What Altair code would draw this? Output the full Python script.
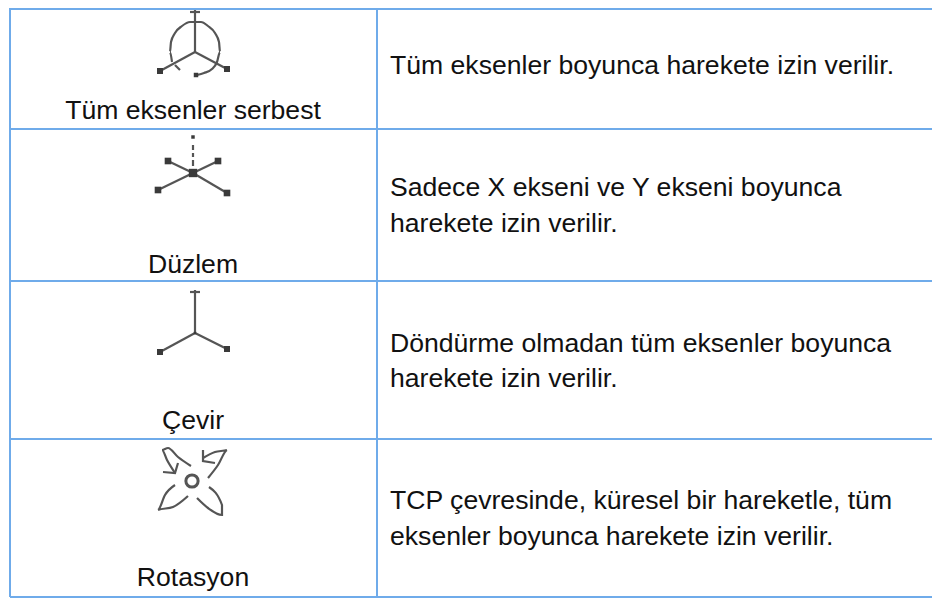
import altair as alt
import pandas as pd

# Table rules, in page pixels: (x, x2, y, y2)
h_rule_y = [9, 129, 281, 439, 597]
h_rule_x = [10, 932]
v_rule_x = [10, 377]
v_rule_y = [8, 597]

# Cell text
label_text = ["Tüm eksenler serbest", "Düzlem", "Çevir", "Rotasyon"]
label_x = [193, 193, 193, 193]
label_y = [119, 273, 429, 586]
desc_text = [
    "Tüm eksenler boyunca harekete izin verilir.",
    "Sadece X ekseni ve Y ekseni boyunca",
    "harekete izin verilir.",
    "Döndürme olmadan tüm eksenler boyunca",
    "harekete izin verilir.",
    "TCP çevresinde, küresel bir hareketle, tüm",
    "eksenler boyunca harekete izin verilir.",
]
desc_x = [390] * 7
desc_y = [74, 196, 232, 352, 387, 509, 545]

# Icon strokes (straight)
straight = {
    "a1": [(195, 10), (195, 52)],
    "a2": [(190, 12), (200, 12)],
    "a3": [(195, 52), (160, 71)],
    "a4": [(195, 52), (227, 69)],
    "a5": [(175, 65), (180, 70)],
    "b1": [(193, 145), (193, 150)],
    "b2": [(193, 153), (193, 157)],
    "b3": [(193, 160), (193, 166)],
    "b4": [(193, 173), (168, 161)],
    "b5": [(193, 173), (218, 161)],
    "b6": [(193, 173), (158, 190)],
    "b7": [(193, 173), (227, 193)],
    "c1": [(195, 290), (195, 333)],
    "c2": [(190, 292), (200, 292)],
    "c3": [(195, 333), (160, 352)],
    "c4": [(195, 333), (227, 349)],
    "d1": [(163, 472), (175, 473), (178, 463)],
    "d2": [(203, 450), (203, 461), (215, 463)],
}
# Icon strokes (curved)
curved = {
    "e1": [(172, 62), (170, 52), (171, 42), (175, 33), (182, 26), (190, 22), (195, 22),
           (201, 22), (208, 26), (215, 33), (219, 42), (220, 52), (217, 62), (212, 69),
           (204, 73), (197, 75)],
    "f1": [(191, 466), (178, 457), (168, 448), (162, 450), (167, 460), (175, 473)],
    "f2": [(208, 478), (218, 465), (227, 450), (215, 452), (203, 458)],
    "f3": [(175, 485), (165, 495), (158, 510), (173, 507), (188, 496)],
    "f4": [(197, 498), (208, 508), (222, 515), (222, 505), (209, 487)],
}
# Icon end squares
sq_x = [160, 227, 196, 193, 193, 168, 218, 158, 227, 160, 227, 195]
sq_y = [71, 69, 75, 137, 173, 161, 161, 190, 193, 352, 349, 333]
sq_size = [36, 36, 20, 12, 70, 44, 44, 44, 44, 36, 36, 6]
ring_x = [192]
ring_y = [481]


def long_table(d):
    rows = []
    for k, pts in d.items():
        for i, (x, y) in enumerate(pts):
            rows.append({"k": k, "i": i, "x": x, "y": y})
    return pd.DataFrame(rows)


W, H = 924, 592
X = alt.X("x:Q", scale=alt.Scale(domain=[8, 932], nice=False, zero=False), axis=None)
Y = alt.Y("y:Q", scale=alt.Scale(domain=[600, 8], nice=False, zero=False), axis=None)
INK = "#555555"
BLUE = "#6fabea"

rules_h = pd.DataFrame([{"x": h_rule_x[0], "x2": h_rule_x[1], "y": y} for y in h_rule_y])
rules_v = pd.DataFrame([{"x": x, "y": v_rule_y[0], "y2": v_rule_y[1]} for x in v_rule_x])

h = alt.Chart(rules_h).mark_rule(color=BLUE, strokeWidth=2).encode(x=X, x2="x2:Q", y=Y)
v = alt.Chart(rules_v).mark_rule(color=BLUE, strokeWidth=2).encode(x=X, y=Y, y2="y2:Q")

line_enc = dict(x=X, y=Y, detail="k:N", order="i:Q")
l1 = alt.Chart(long_table(straight)).mark_line(color=INK, strokeWidth=2.2).encode(**line_enc)
l2 = alt.Chart(long_table(curved)).mark_line(color=INK, strokeWidth=2.2, interpolate="monotone").encode(**line_enc)
sq = alt.Chart(pd.DataFrame({"x": sq_x, "y": sq_y, "s": sq_size})).mark_square(color="#3a3a3a", opacity=1).encode(
    x=X, y=Y, size=alt.Size("s:Q", scale=None, legend=None))
ring = alt.Chart(pd.DataFrame({"x": ring_x, "y": ring_y})).mark_point(
    color=INK, strokeWidth=3, size=150, filled=False, opacity=1).encode(x=X, y=Y)

t1 = alt.Chart(pd.DataFrame({"x": label_x, "y": label_y, "t": label_text})).mark_text(
    font="Liberation Sans", fontSize=26.6, align="center", baseline="alphabetic", color="#111111"
).encode(x=X, y=Y, text="t:N")
t2 = alt.Chart(pd.DataFrame({"x": desc_x, "y": desc_y, "t": desc_text})).mark_text(
    font="Liberation Sans", fontSize=26.6, align="left", baseline="alphabetic", color="#111111"
).encode(x=X, y=Y, text="t:N")

chart = alt.layer(h, v, l1, l2, sq, ring, t1, t2).properties(
    width=W, height=H, padding=0, autosize=alt.AutoSizeParams(type="none")
).configure_view(stroke=None)

chart.save("out.html", embed_options={"renderer": "svg", "actions": False})
